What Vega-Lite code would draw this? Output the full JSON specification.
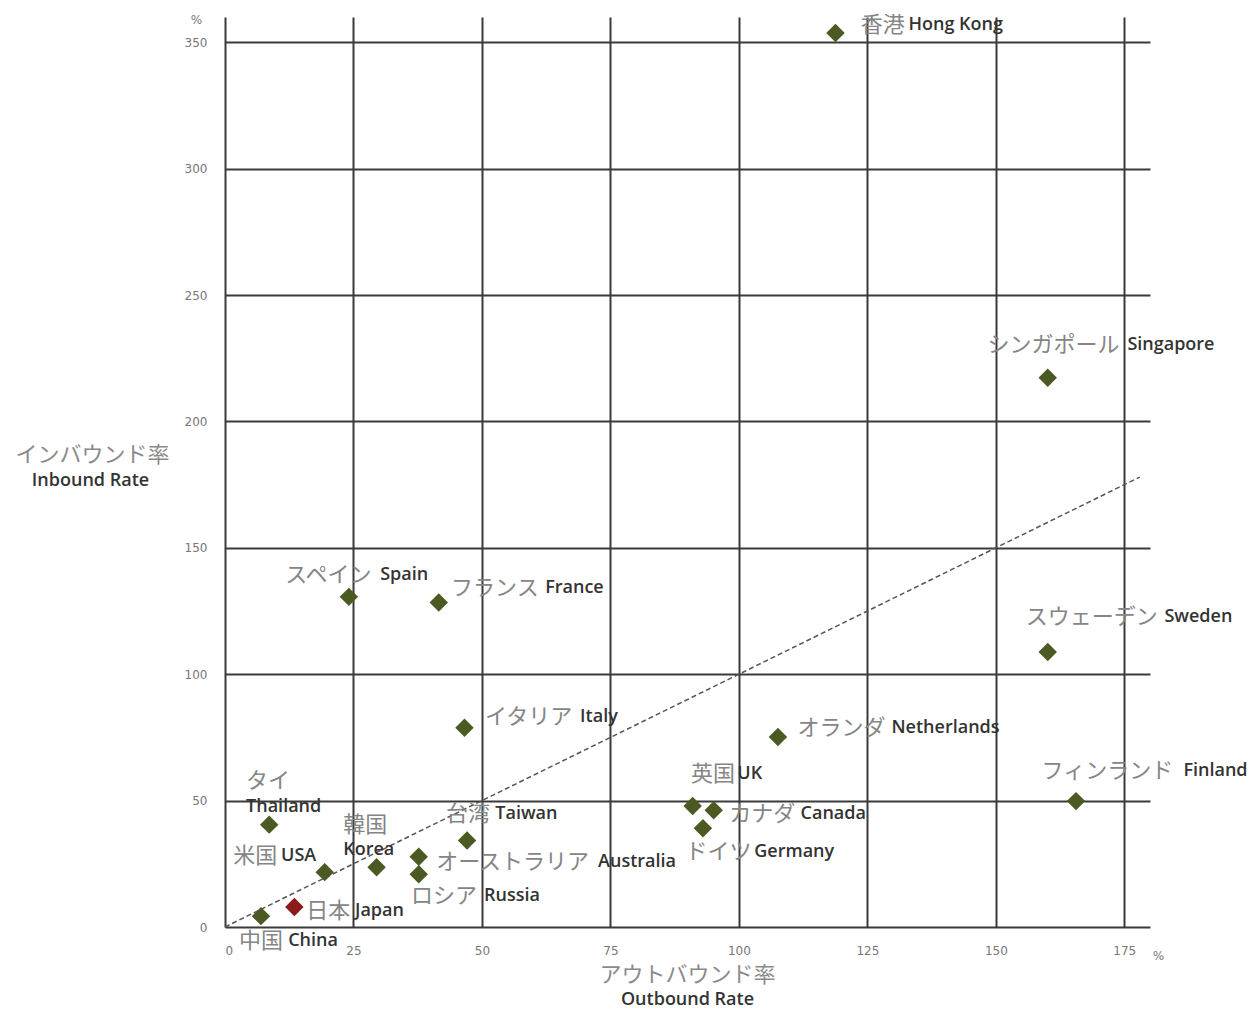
{
  "$schema": "https://vega.github.io/schema/vega-lite/v6.json",
  "width": 925,
  "height": 910,
  "autosize": "none",
  "padding": {"left": 225, "top": 17, "right": 99, "bottom": 83},
  "background": "white",
  "config": {"view": {"stroke": null}},
  "datasets": {
    "pts": [
      {"name": "Hong Kong", "outbound": 118.8, "inbound": 353.7, "japan": false},
      {"name": "Singapore", "outbound": 160.1, "inbound": 217.3, "japan": false},
      {"name": "Sweden", "outbound": 160.1, "inbound": 108.8, "japan": false},
      {"name": "Finland", "outbound": 165.6, "inbound": 49.8, "japan": false},
      {"name": "Netherlands", "outbound": 107.6, "inbound": 75.2, "japan": false},
      {"name": "UK", "outbound": 91.0, "inbound": 47.9, "japan": false},
      {"name": "Canada", "outbound": 95.1, "inbound": 46.2, "japan": false},
      {"name": "Germany", "outbound": 93.0, "inbound": 39.1, "japan": false},
      {"name": "Spain", "outbound": 24.1, "inbound": 130.6, "japan": false},
      {"name": "France", "outbound": 41.6, "inbound": 128.4, "japan": false},
      {"name": "Italy", "outbound": 46.6, "inbound": 78.8, "japan": false},
      {"name": "Taiwan", "outbound": 47.1, "inbound": 34.2, "japan": false},
      {"name": "Australia", "outbound": 37.7, "inbound": 27.8, "japan": false},
      {"name": "Russia", "outbound": 37.7, "inbound": 20.9, "japan": false},
      {"name": "Korea", "outbound": 29.5, "inbound": 23.6, "japan": false},
      {"name": "USA", "outbound": 19.4, "inbound": 21.7, "japan": false},
      {"name": "Thailand", "outbound": 8.6, "inbound": 40.5, "japan": false},
      {"name": "China", "outbound": 7.0, "inbound": 4.3, "japan": false},
      {"name": "Japan", "outbound": 13.5, "inbound": 7.9, "japan": true}
    ],
    "diag": [
      {"o": 0, "i": 0},
      {"o": 178, "i": 178}
    ],
    "labels": [
      {"jp": "香港", "jx": 123.7, "jy": 357.0, "en": "Hong Kong", "ex": 133.0, "ey": 357.0},
      {"jp": "シンガポール", "jx": 148.4, "jy": 230.3, "en": "Singapore", "ex": 175.6, "ey": 230.3},
      {"jp": "スウェーデン", "jx": 155.8, "jy": 122.7, "en": "Sweden", "ex": 182.8, "ey": 122.7},
      {"jp": "フィンランド", "jx": 158.9, "jy": 61.7, "en": "Finland", "ex": 186.5, "ey": 61.7},
      {"jp": "オランダ", "jx": 111.4, "jy": 78.7, "en": "Netherlands", "ex": 129.7, "ey": 78.7},
      {"jp": "英国", "jx": 90.7, "jy": 60.5, "en": "UK", "ex": 99.7, "ey": 60.5},
      {"jp": "カナダ", "jx": 98.1, "jy": 44.7, "en": "Canada", "ex": 112.0, "ey": 44.7},
      {"jp": "ドイツ", "jx": 89.6, "jy": 29.7, "en": "Germany", "ex": 103.0, "ey": 29.7},
      {"jp": "スペイン", "jx": 11.7, "jy": 139.3, "en": "Spain", "ex": 30.2, "ey": 139.3},
      {"jp": "フランス", "jx": 44.0, "jy": 134.2, "en": "France", "ex": 62.3, "ey": 134.2},
      {"jp": "イタリア", "jx": 50.6, "jy": 83.1, "en": "Italy", "ex": 69.1, "ey": 83.1},
      {"jp": "タイ", "jx": 4.1, "jy": 57.6, "en": "Thailand", "ex": 4.1, "ey": 47.6},
      {"jp": "韓国", "jx": 23.0, "jy": 40.4, "en": "Korea", "ex": 23.0, "ey": 30.6},
      {"jp": "米国", "jx": 1.6, "jy": 28.1, "en": "USA", "ex": 10.9, "ey": 28.1},
      {"jp": "台湾", "jx": 43.0, "jy": 44.7, "en": "Taiwan", "ex": 52.6, "ey": 44.7},
      {"jp": "オーストラリア", "jx": 41.1, "jy": 25.7, "en": "Australia", "ex": 72.6, "ey": 25.7},
      {"jp": "ロシア", "jx": 36.2, "jy": 12.3, "en": "Russia", "ex": 50.4, "ey": 12.3},
      {"jp": "日本", "jx": 15.8, "jy": 6.3, "en": "Japan", "ex": 25.3, "ey": 6.3},
      {"jp": "中国", "jx": 2.7, "jy": -5.5, "en": "China", "ex": 12.3, "ey": -5.5}
    ]
  },
  "resolve": {"axis": {"x": "independent", "y": "independent"}},
  "layer": [
    {
      "data": {"name": "diag"},
      "mark": {"type": "line", "color": "#555555", "strokeWidth": 1.5, "strokeDash": [5, 3]},
      "encoding": {
        "x": {"field": "o", "type": "quantitative", "scale": {"domain": [0, 180], "nice": false, "zero": false},
          "axis": {"orient": "bottom", "labels": false, "grid": false, "ticks": false, "domain": false,
            "title": "Outbound Rate", "titleFont": "Open Sans", "titleFontSize": 18, "titleFontWeight": 600, "titleColor": "#333333",
            "titleX": 462, "titleY": 72, "titleAlign": "center", "titleBaseline": "middle"}},
        "y": {"field": "i", "type": "quantitative", "scale": {"domain": [0, 360], "nice": false, "zero": false},
          "axis": {"orient": "left", "labels": false, "grid": false, "ticks": false, "domain": false,
            "title": "Inbound Rate", "titleFont": "Open Sans", "titleFontSize": 18, "titleFontWeight": 600, "titleColor": "#333333",
            "titleAngle": 0, "titleX": -135, "titleY": 463, "titleAlign": "center", "titleBaseline": "middle"}}
      }
    },
    {
      "data": {"name": "pts"},
      "mark": {"type": "point", "shape": "diamond", "filled": true, "size": 340, "opacity": 1},
      "encoding": {
        "x": {"field": "outbound", "type": "quantitative", "scale": {"domain": [0, 180], "nice": false, "zero": false},
          "axis": {"orient": "bottom", "values": [0, 25, 50, 75, 100, 125, 150, 175], "grid": true, "gridColor": "#3a3a3a", "gridWidth": 2, "gridOpacity": 1,
            "ticks": false, "domain": false, "labelFont": "DejaVu Sans", "labelFontSize": 12, "labelColor": "#777777", "labelPadding": 18,
            "title": "アウトバウンド率", "titleFont": "Noto Sans CJK JP", "titleFontSize": 22, "titleFontWeight": "normal", "titleColor": "#8a8a8a",
            "titleX": 462, "titleY": 47, "titleAlign": "center", "titleBaseline": "middle"}},
        "y": {"field": "inbound", "type": "quantitative", "scale": {"domain": [0, 360], "nice": false, "zero": false},
          "axis": {"orient": "left", "values": [0, 50, 100, 150, 200, 250, 300, 350], "grid": true, "gridColor": "#3a3a3a", "gridWidth": 2, "gridOpacity": 1,
            "ticks": false, "domain": false, "labelFont": "DejaVu Sans", "labelFontSize": 12, "labelColor": "#777777", "labelPadding": 18,
            "title": "インバウンド率", "titleFont": "Noto Sans CJK JP", "titleFontSize": 22, "titleFontWeight": "normal", "titleColor": "#8a8a8a",
            "titleAngle": 0, "titleX": -133, "titleY": 437, "titleAlign": "center", "titleBaseline": "middle"}},
        "color": {"condition": {"test": "datum.japan", "value": "#8b1a1a"}, "value": "#4b5a22"}
      }
    },
    {
      "data": {"name": "labels"},
      "mark": {"type": "text", "align": "left", "baseline": "middle", "font": "Noto Sans CJK JP", "fontSize": 22, "color": "#858585"},
      "encoding": {
        "x": {"field": "jx", "type": "quantitative", "scale": {"domain": [0, 180], "nice": false, "zero": false},
          "axis": {"orient": "bottom", "labels": false, "grid": false, "ticks": false, "domain": false,
            "title": "%", "titleFont": "DejaVu Sans", "titleFontSize": 12, "titleFontWeight": "normal", "titleColor": "#777777",
            "titleX": 933, "titleY": 28, "titleAlign": "center", "titleBaseline": "middle"}},
        "y": {"field": "jy", "type": "quantitative", "scale": {"domain": [0, 360], "nice": false, "zero": false},
          "axis": {"orient": "left", "labels": false, "grid": false, "ticks": false, "domain": false,
            "title": "%", "titleFont": "DejaVu Sans", "titleFontSize": 12, "titleFontWeight": "normal", "titleColor": "#777777",
            "titleAngle": 0, "titleX": -29, "titleY": 2, "titleAlign": "center", "titleBaseline": "middle"}},
        "text": {"field": "jp"}
      }
    },
    {
      "data": {"name": "labels"},
      "mark": {"type": "text", "align": "left", "baseline": "middle", "font": "Open Sans", "fontSize": 18, "fontWeight": 600, "color": "#333333"},
      "encoding": {
        "x": {"field": "ex", "type": "quantitative", "scale": {"domain": [0, 180], "nice": false, "zero": false}, "axis": null},
        "y": {"field": "ey", "type": "quantitative", "scale": {"domain": [0, 360], "nice": false, "zero": false}, "axis": null},
        "text": {"field": "en"}
      }
    }
  ]
}
